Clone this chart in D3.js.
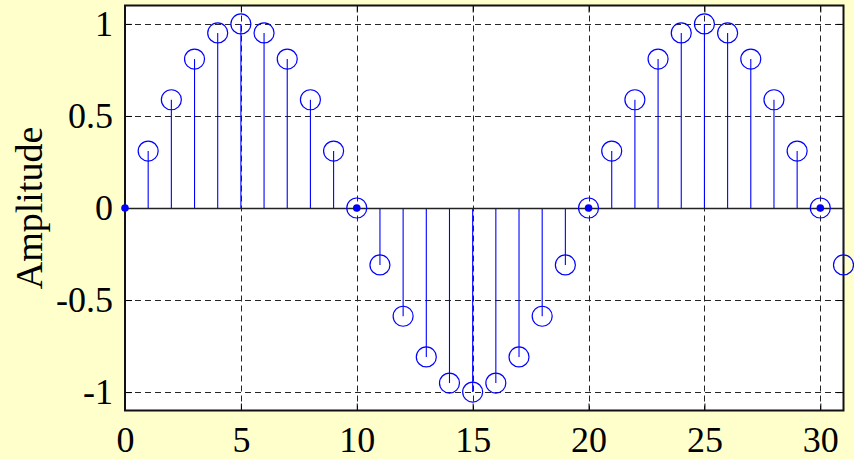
<!DOCTYPE html>
<html>
<head>
<meta charset="utf-8">
<script src="https://cdn.jsdelivr.net/npm/d3@7"></script>
<style>
  html, body { margin: 0; padding: 0; background: #ffffcc; }
  svg { display: block; }
  text { font-family: "Liberation Serif", "Times New Roman", serif; fill: #000; }
</style>
</head>
<body>
<svg class="vis" width="854" height="459"></svg>
<script>
// sample index n = 1..31 and the stem values
const samples = [1, 2, 3, 4, 5, 6, 7, 8, 9, 10, 11, 12, 13, 14, 15, 16,
                 17, 18, 19, 20, 21, 22, 23, 24, 25, 26, 27, 28, 29, 30, 31];
const amplitude = [0.309, 0.588, 0.809, 0.951, 1, 0.951, 0.809, 0.588, 0.309, 0,
                   -0.309, -0.588, -0.809, -0.951, -1, -0.951, -0.809, -0.588, -0.309, 0,
                   0.309, 0.588, 0.809, 0.951, 1, 0.951, 0.809, 0.588, 0.309, 0, -0.309];
// filled dots on the zero crossings
const dotSamples = [0, 10, 20, 30];
const xTicks = [0, 5, 10, 15, 20, 25, 30];
const yTicks = [-1, -0.5, 0, 0.5, 1];
const yTickLabels = ["-1", "-0.5", "0", "0.5", "1"];

const vis = {
    dims: { left: 125, right: 843.5, top: 5.5, bottom: 410.5 },
    sels: {}
};

vis.sels.svg = d3.select("svg.vis");

const x = d3.scaleLinear().domain([0, 31]).range([vis.dims.left, vis.dims.right]);
const y = d3.scaleLinear().domain([-1.1, 1.1]).range([vis.dims.bottom, vis.dims.top]);

const svg = vis.sels.svg;

// plot area
svg.append("rect")
   .attr("x", vis.dims.left).attr("y", vis.dims.top)
   .attr("width", vis.dims.right - vis.dims.left)
   .attr("height", vis.dims.bottom - vis.dims.top)
   .attr("fill", "#fff");

// grid
const grid = svg.append("g").attr("stroke", "#000").attr("stroke-width", 1)
   .attr("stroke-dasharray", "6,4").attr("opacity", 0.85);
grid.selectAll("line.gx").data(xTicks).join("line")
   .attr("x1", d => Math.round(x(d)) + 0.5).attr("x2", d => Math.round(x(d)) + 0.5)
   .attr("y1", vis.dims.top).attr("y2", vis.dims.bottom);
grid.selectAll("line.gy").data(yTicks).join("line")
   .attr("y1", d => Math.round(y(d)) + 0.5).attr("y2", d => Math.round(y(d)) + 0.5)
   .attr("x1", vis.dims.left).attr("x2", vis.dims.right);

// axes with inward ticks
const axB = d3.axisBottom(x).tickValues(xTicks).tickSizeInner(-7).tickSizeOuter(0).tickPadding(16);
const axT = d3.axisTop(x).tickValues(xTicks).tickSizeInner(-7).tickSizeOuter(0).tickFormat("");
const axL = d3.axisLeft(y).tickValues(yTicks).tickSizeInner(-7).tickSizeOuter(0).tickPadding(12)
   .tickFormat((d, i) => yTickLabels[i]);
const axR = d3.axisRight(y).tickValues(yTicks).tickSizeInner(-7).tickSizeOuter(0).tickFormat("");

function style(g) {
    g.select(".domain").remove();
    g.selectAll(".tick line").attr("stroke", "#000").attr("stroke-width", 1);
    g.selectAll("text").attr("font-size", 36).attr("font-family", "Liberation Serif, serif");
}

svg.append("g").attr("transform", `translate(0,${vis.dims.bottom})`).call(axB).call(style);
svg.append("g").attr("transform", `translate(0,${vis.dims.top})`).call(axT).call(style);
svg.append("g").attr("transform", `translate(${vis.dims.left},0)`).call(axL).call(style);
svg.append("g").attr("transform", `translate(${vis.dims.right},0)`).call(axR).call(style);

// box
svg.append("rect")
   .attr("x", vis.dims.left).attr("y", vis.dims.top)
   .attr("width", vis.dims.right - vis.dims.left)
   .attr("height", vis.dims.bottom - vis.dims.top)
   .attr("fill", "none").attr("stroke", "#111").attr("stroke-width", 2);

// stems (over the box: the one at n = 31 lies on the right edge)
const data = samples.map((n, i) => ({ n: n, v: amplitude[i] }));
svg.append("g").selectAll("line").data(data).join("line")
   .attr("x1", d => x(d.n)).attr("x2", d => x(d.n))
   .attr("y1", y(0)).attr("y2", d => y(d.v))
   .attr("stroke", "#0000ff").attr("stroke-width", 1.1);

// baseline
svg.append("line")
   .attr("x1", vis.dims.left).attr("x2", vis.dims.right)
   .attr("y1", Math.round(y(0)) + 0.5).attr("y2", Math.round(y(0)) + 0.5)
   .attr("stroke", "#222").attr("stroke-width", 1.3);

// markers
svg.append("g").selectAll("circle").data(data).join("circle")
   .attr("cx", d => x(d.n)).attr("cy", d => y(d.v)).attr("r", 10)
   .attr("fill", "none").attr("stroke", "#0000ff").attr("stroke-width", 1.2);

svg.append("g").selectAll("circle").data(dotSamples).join("circle")
   .attr("cx", d => x(d)).attr("cy", y(0)).attr("r", 3.8)
   .attr("fill", "#0000ff");

// y label
svg.append("text")
   .attr("transform", `translate(42,${y(0)}) rotate(-90)`)
   .attr("text-anchor", "middle")
   .attr("font-size", 38)
   .text("Amplitude");
</script>
</body>
</html>
